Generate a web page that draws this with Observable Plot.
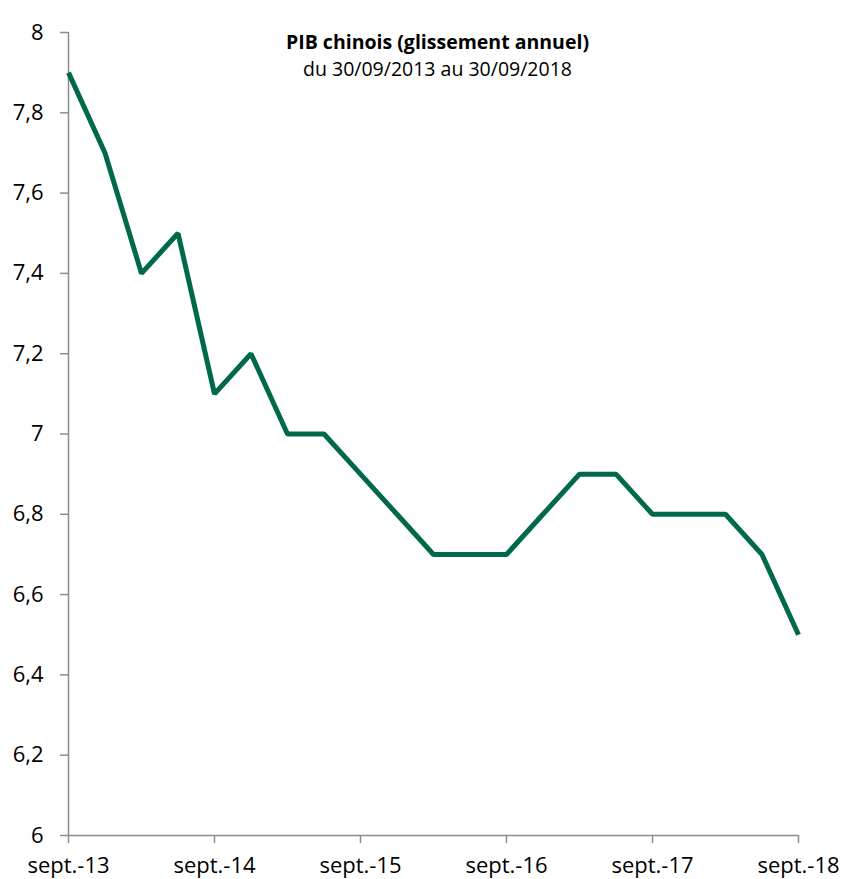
<!DOCTYPE html>
<html>
<head>
<meta charset="utf-8">
<script src="https://cdn.jsdelivr.net/npm/d3@7"></script>
<script src="https://cdn.jsdelivr.net/npm/@observablehq/plot@0.6"></script>
<style>
  html, body { margin: 0; padding: 0; background: #fff; }
  #chart svg { display: block; }
</style>
</head>
<body>
<div id="chart"></div>
<script>
const quarters = ["sept.-13","déc.-13","mars-14","juin-14","sept.-14","déc.-14","mars-15","juin-15","sept.-15","déc.-15","mars-16","juin-16","sept.-16","déc.-16","mars-17","juin-17","sept.-17","déc.-17","mars-18","juin-18","sept.-18"];
const gdp = [7.9, 7.7, 7.4, 7.5, 7.1, 7.2, 7.0, 7.0, 6.9, 6.8, 6.7, 6.7, 6.7, 6.8, 6.9, 6.9, 6.8, 6.8, 6.8, 6.7, 6.5];
const yTicks = [6, 6.2, 6.4, 6.6, 6.8, 7, 7.2, 7.4, 7.6, 7.8, 8];
const xTickIdx = [0, 4, 8, 12, 16, 20];
const title = "PIB chinois (glissement annuel)";
const subtitle = "du 30/09/2013 au 30/09/2018";

const data = quarters.map((q, i) => ({i, q, v: gdp[i]}));
const fmt = d3.format(".1f");
const axisColor = "#8c8c8c";

const chart = Plot.plot({
  width: 846,
  height: 879,
  marginLeft: 68,
  marginRight: 48,
  marginTop: 32,
  marginBottom: 44,
  style: {fontFamily: "'Open Sans', sans-serif", fontSize: "22px", color: "#000", background: "#fff"},
  x: {domain: [0, 20], axis: null},
  y: {domain: [6, 8], axis: null},
  marks: [
    Plot.ruleY([6], {stroke: axisColor, strokeWidth: 1.5}),
    Plot.ruleX([0], {stroke: axisColor, strokeWidth: 1.5}),
    Plot.axisY({ticks: yTicks, tickSize: 8, tickPadding: 17, stroke: axisColor, strokeWidth: 1.5,
      tickFormat: d => d === Math.round(d) ? String(d) : fmt(d).replace(".", ","),
      fill: "#000", fontSize: 22, label: null}),
    Plot.axisX({ticks: xTickIdx, tickSize: 8, tickPadding: 14, stroke: axisColor, strokeWidth: 1.5,
      tickFormat: i => quarters[i], fill: "#000", fontSize: 22, label: null}),
    Plot.line(data, {x: "i", y: "v", stroke: "#00694b", strokeWidth: 5, strokeLinejoin: "miter", strokeLinecap: "butt"}),
    Plot.text([title], {frameAnchor: "top", lineAnchor: "top", text: d => d, dx: 4, dy: 3, fontWeight: "bold", fontSize: 19.5, fill: "#000"}),
    Plot.text([subtitle], {frameAnchor: "top", lineAnchor: "top", text: d => d, dx: 4, dy: 30, fontSize: 19.5, fill: "#000"})
  ]
});
document.getElementById("chart").appendChild(chart);
</script>
</body>
</html>
